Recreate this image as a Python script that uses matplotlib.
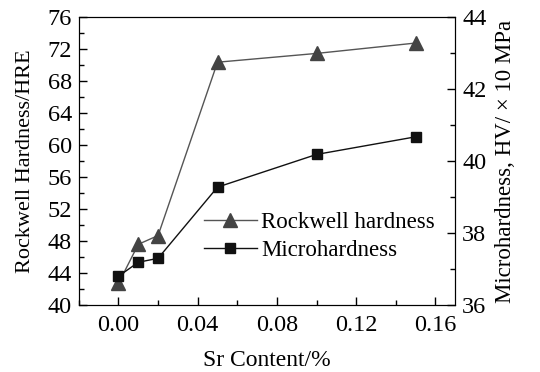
import matplotlib
matplotlib.use("Agg")
import matplotlib.pyplot as plt
from matplotlib.ticker import MultipleLocator

plt.rcParams['font.family'] = ['Liberation Serif', 'DejaVu Serif']

# data
sr_content = [0.00, 0.01, 0.02, 0.05, 0.10, 0.15]
rockwell = [42.7, 47.6, 48.7, 70.4, 71.5, 72.8]
micro = [36.80, 37.19, 37.30, 39.28, 40.19, 40.68]
x_ticks = [0.00, 0.04, 0.08, 0.12, 0.16]
x_ticklabels = ['0.00', '0.04', '0.08', '0.12', '0.16']

fig = plt.figure(figsize=(5.4, 3.72), dpi=100)
ax1 = fig.add_subplot(111)
fig.subplots_adjust(left=0.146, right=0.843, bottom=0.180, top=0.953)
ax2 = ax1.twinx()

l1, = ax1.plot(sr_content, rockwell, color='#555555', lw=1.0, marker='^',
               markersize=10, markerfacecolor='#444444', markeredgecolor='#444444',
               label='Rockwell hardness')
l2, = ax2.plot(sr_content, micro, color='#111111', lw=1.0, marker='s',
               markersize=7.5, markerfacecolor='#111111', markeredgecolor='#111111',
               label='Microhardness')

ax1.set_xlim(-0.02, 0.17)
ax1.set_ylim(40, 76)
ax2.set_ylim(36, 44)

ax1.set_xticks(x_ticks)
ax1.set_xticklabels(x_ticklabels)
ax1.xaxis.set_minor_locator(MultipleLocator(0.02))
ax1.yaxis.set_major_locator(MultipleLocator(4))
ax1.yaxis.set_minor_locator(MultipleLocator(2))
ax2.yaxis.set_major_locator(MultipleLocator(2))
ax2.yaxis.set_minor_locator(MultipleLocator(1))

ax1.tick_params(axis='both', which='both', direction='in', top=False, right=False,
                labelsize=17.5, width=1.0)
ax1.tick_params(which='major', length=6)
ax1.tick_params(which='minor', length=3.5)
ax1.tick_params(axis='x', which='major', pad=7)
ax1.tick_params(axis='y', which='major', pad=5)
ax2.tick_params(axis='y', which='both', direction='in', labelsize=17.5, width=1.0)
ax2.tick_params(which='major', length=6, pad=5)
ax2.tick_params(which='minor', length=3.5)

ax1.set_xlabel('Sr Content/%', fontsize=17, labelpad=10)
ax1.set_ylabel('Rockwell Hardness/HRE', fontsize=16, labelpad=9)
ax2.set_ylabel('Microhardness, HV/ × 10 MPa', fontsize=16.5, labelpad=6)

ax2.legend(handles=[l1, l2], loc='upper left', bbox_to_anchor=(0.278, 0.394),
           frameon=False, fontsize=16.5, handlelength=2.3, handletextpad=0.2,
           labelspacing=0.3, borderpad=0.4)

plt.savefig('out.png', dpi=100)
